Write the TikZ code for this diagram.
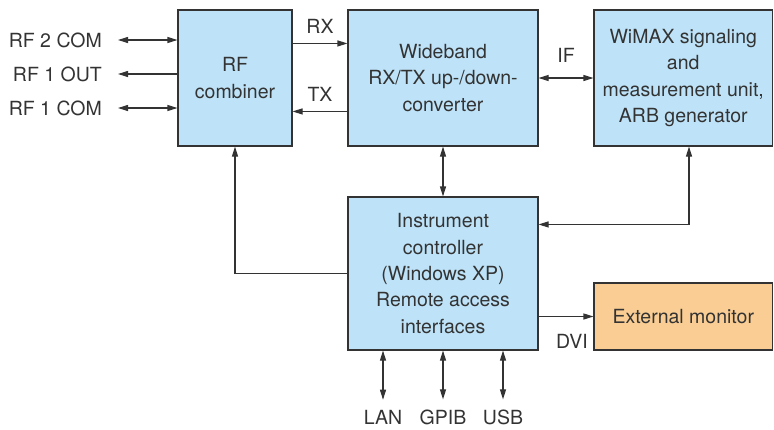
\documentclass[tikz,border=0pt]{standalone}
\usepackage{fontspec}
\setmainfont{TeX Gyre Heros}
\usetikzlibrary{arrows.meta,positioning,calc}
\definecolor{blkA}{HTML}{BEE3F8}
\definecolor{blkB}{HTML}{F9CD93}
\definecolor{ink}{HTML}{333333}
\tikzset{
  blk/.style={draw=ink,line width=1.1pt,align=center,inner sep=0pt,text=ink},
  lbl/.style={text=ink,inner sep=0pt},
  arr/.style={draw=ink,line width=1.1pt,-{Triangle[length=10pt,width=6pt]}},
  io/.style={draw=ink,line width=1.1pt,{Triangle[length=10pt,width=6pt]}-{Triangle[length=10pt,width=6pt]}}
}

\begin{document}
\begin{tikzpicture}[x=1pt,y=-1pt,font=\fontsize{19.5}{26.3}\selectfont]
\useasboundingbox (0,0) rectangle (774,429);
% blocks
\node[blk,fill=blkA,minimum width=114pt,minimum height=136pt] (comb) at (235,78) {RF\\combiner};
\node[blk,fill=blkA,minimum width=190pt,minimum height=136pt] (conv) at (443,78) {Wideband\\RX/TX up-/down-\\converter};
\node[blk,fill=blkA,minimum width=178.5pt,minimum height=136pt] (wimax) at (683.25,78) {WiMAX signaling\\and\\measurement unit,\\ARB generator};
\node[blk,fill=blkA,minimum width=190pt,minimum height=153pt] (ctrl) at (443,273.5) {Instrument\\controller\\(Windows XP)\\Remote access\\interfaces};
\node[blk,fill=blkB,minimum width=178.5pt,minimum height=67pt] (mon) at (683.25,316.5) {External monitor};
% RF ports
\node[lbl,anchor=east] (rf2) at (102,40) {RF 2 COM};
\node[lbl,anchor=east] (rf1o) at (102,74) {RF 1 OUT};
\node[lbl,anchor=east] (rf1c) at (102,108) {RF 1 COM};
\draw[io] ([xshift=16pt]rf2.east) -- (comb.west |- rf2);
\draw[arr] (comb.west |- rf1o) -- ([xshift=16pt]rf1o.east);
\draw[io] ([xshift=16pt]rf1c.east) -- (comb.west |- rf1c);
% signal paths
\draw[arr] ([yshift=-34pt]comb.north east) -- ([yshift=-34pt]conv.north west) node[midway,above=9pt,lbl] {RX};
\draw[arr] ([yshift=-102pt]conv.north west) -- ([yshift=-102pt]comb.north east) node[midway,above=9.5pt,lbl] {TX};
\draw[io] (conv) -- (wimax) node[midway,above=14.5pt,lbl] {IF};
\draw[io] (conv) -- (ctrl);
\draw[io] ([xshift=5.75pt]wimax.south) |- ([yshift=-28pt]ctrl.north east);
\draw[arr] (ctrl.west) -| (comb.south);
\draw[arr] (ctrl.east |- mon.west) -- (mon.west) node[midway,below=17.5pt,xshift=6pt,lbl] {DVI};
% remote interfaces
\foreach \n/\t/\dx in {lan/LAN/-60,gpib/GPIB/0,usb/USB/60}{
  \node[lbl] (\n) at ($(ctrl.south)+(\dx,67)$) {\t};
  \draw[io] (\n.north) ++(0,-10.5) -- (\n |- ctrl.south);}
\end{tikzpicture}
\end{document}
